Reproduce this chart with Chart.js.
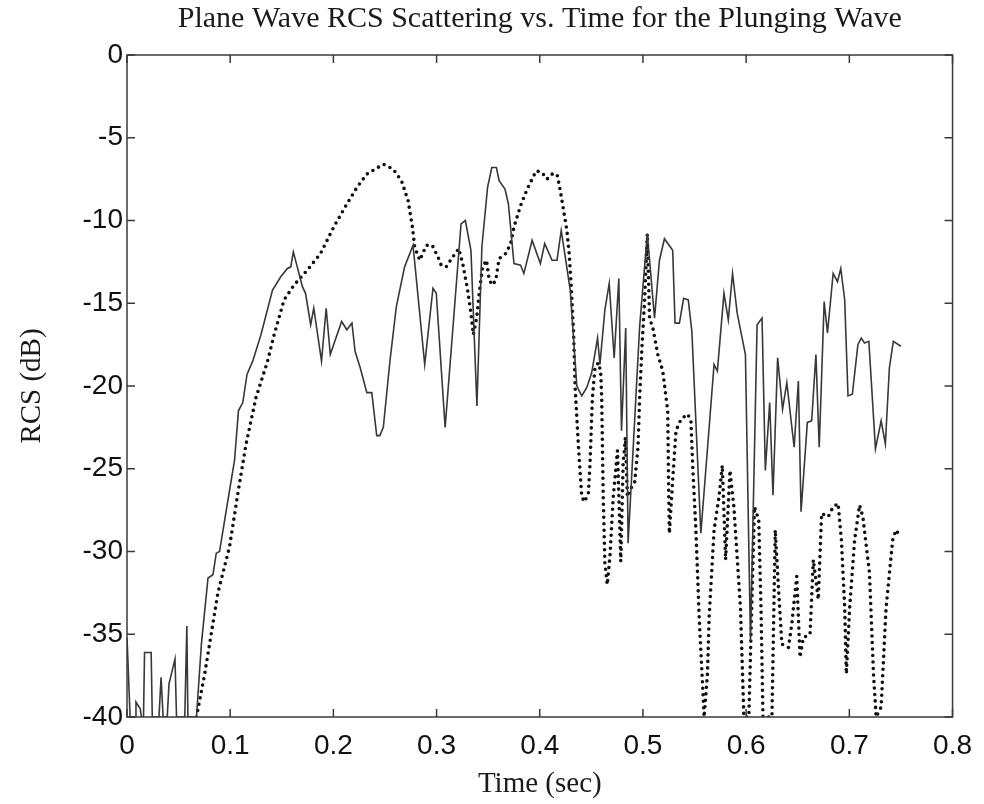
<!DOCTYPE html>
<html>
<head>
<meta charset="utf-8">
<title>Plane Wave RCS Scattering</title>
<script src="https://cdn.jsdelivr.net/npm/chart.js@4.4.1/dist/chart.umd.min.js"></script>
<style>
  html, body { margin: 0; padding: 0; background: #fff; }
</style>
</head>
<body>
<canvas id="rcs" width="984" height="804"></canvas>
<script>
const chartTitle = 'Plane Wave RCS Scattering vs. Time for the Plunging Wave';

// solid trace: time (sec) and RCS (dB)
const solidTime = [0, 0.003, 0.008, 0.0087, 0.0128, 0.014, 0.016, 0.017, 0.0234, 0.0245,
  0.031, 0.033, 0.035, 0.039, 0.0407, 0.0465, 0.048, 0.056, 0.058, 0.059,
  0.0673, 0.0721, 0.0785, 0.0833, 0.0865, 0.0897, 0.0978, 0.1042, 0.108, 0.1122,
  0.1163, 0.1218, 0.1298, 0.141, 0.149, 0.1554, 0.1587, 0.1612, 0.165, 0.170,
  0.173, 0.178, 0.181, 0.1885, 0.193, 0.197, 0.208, 0.213, 0.218, 0.221,
  0.226, 0.2324, 0.2372, 0.242, 0.245, 0.2484, 0.2548, 0.261, 0.269, 0.2772,
  0.2885, 0.2965, 0.2997, 0.3083, 0.3237, 0.3279, 0.3333, 0.3391, 0.3439, 0.3494,
  0.3535, 0.358, 0.3606, 0.3663, 0.3696, 0.375, 0.3814, 0.3846, 0.3926, 0.4006,
  0.4048, 0.4119, 0.4167, 0.4208, 0.4247, 0.4295, 0.4359, 0.4407, 0.4455, 0.4503,
  0.456, 0.4583, 0.4631, 0.4673, 0.4721, 0.4766, 0.4792, 0.4833, 0.4856, 0.4968,
  0.5042, 0.5112, 0.516, 0.5208, 0.5288, 0.5311, 0.5353, 0.5394, 0.5439, 0.5474,
  0.5561, 0.5689, 0.5721, 0.5785, 0.5827, 0.5868, 0.5913, 0.5993, 0.6042, 0.6106,
  0.6154, 0.6186, 0.6228, 0.626, 0.6305, 0.6353, 0.6394, 0.6465, 0.6506, 0.6532,
  0.6593, 0.6635, 0.6676, 0.6708, 0.6756, 0.6788, 0.6843, 0.6885, 0.6917, 0.6955,
  0.6987, 0.7029, 0.7083, 0.7115, 0.7147, 0.7189, 0.7253, 0.7308, 0.7349, 0.7388,
  0.7426, 0.75];
const solidRcs = [-35.2, -40, -40, -39.1, -39.5, -40, -40, -36.1, -36.1, -40,
  -40, -37.6, -40, -40, -38.0, -36.5, -40, -40, -34.5, -40,
  -40, -35.6, -31.6, -31.4, -30.1, -30.0, -26.9, -24.5, -21.5, -21.0,
  -19.3, -18.5, -16.9, -14.2, -13.4, -12.9, -12.8, -11.9, -12.8, -14.0,
  -14.4, -16.3, -15.3, -18.5, -15.3, -18.1, -16.1, -16.6, -16.2, -17.9,
  -18.9, -20.4, -20.4, -23.0, -23.0, -22.5, -18.5, -15.2, -12.8, -11.5,
  -18.7, -14.1, -14.4, -22.5, -10.2, -10.0, -11.8, -21.2, -11.6, -8.0,
  -6.8, -6.8, -7.6, -8.1, -9.0, -12.6, -12.7, -13.2, -11.2, -12.6,
  -11.4, -12.4, -12.4, -10.6, -12.2, -14.2, -20.0, -20.6, -20.1, -19.2,
  -17.1, -18.7, -15.4, -13.8, -18.3, -13.5, -22.7, -16.5, -29.5, -16.4,
  -10.8, -15.9, -12.4, -11.1, -11.8, -16.2, -16.2, -14.7, -14.8, -16.7,
  -28.9, -18.7, -19.1, -14.4, -16.0, -13.2, -15.6, -18.1, -35.4, -16.3,
  -15.9, -25.1, -21.0, -26.6, -18.3, -21.4, -19.8, -23.7, -19.7, -27.6,
  -22.2, -22.1, -18.1, -23.7, -14.9, -16.8, -13.2, -13.7, -12.9, -14.8,
  -20.6, -20.5, -17.5, -17.1, -17.4, -17.3, -23.8, -22.1, -23.5, -18.9,
  -17.3, -17.6];

// dotted trace
const dottedTime = [0.0673, 0.0753, 0.0881, 0.0994, 0.1074, 0.1154, 0.125, 0.1362, 0.1426, 0.1522,
  0.1619, 0.1747, 0.1875, 0.2003, 0.2131, 0.2228, 0.2324, 0.2484, 0.258, 0.266,
  0.2724, 0.2766, 0.2788, 0.2837, 0.2901, 0.2958, 0.3013, 0.3045, 0.3093, 0.3157,
  0.3215, 0.3253, 0.3301, 0.3333, 0.3356, 0.3388, 0.3413, 0.3446, 0.3484, 0.351,
  0.3542, 0.3574, 0.3606, 0.367, 0.3718, 0.375, 0.3814, 0.3878, 0.3965, 0.4022,
  0.407, 0.4119, 0.4167, 0.4199, 0.4231, 0.4263, 0.4285, 0.4305, 0.4327, 0.4343,
  0.4375, 0.4407, 0.4433, 0.4471, 0.4487, 0.451, 0.4535, 0.4567, 0.459, 0.46,
  0.4615, 0.4631, 0.4654, 0.468, 0.4712, 0.4753, 0.4776, 0.4785, 0.4808, 0.483,
  0.4849, 0.4872, 0.492, 0.4952, 0.4968, 0.499, 0.5016, 0.5042, 0.5064, 0.5096,
  0.5144, 0.5192, 0.524, 0.525, 0.5256, 0.5288, 0.532, 0.5369, 0.5433, 0.5465,
  0.5481, 0.5513, 0.5545, 0.5593, 0.5625, 0.5641, 0.5689, 0.5737, 0.5769, 0.5801,
  0.5843, 0.5881, 0.5945, 0.5978, 0.6026, 0.608, 0.6122, 0.6144, 0.6163, 0.625,
  0.6282, 0.6314, 0.6346, 0.641, 0.6442, 0.649, 0.6522, 0.6554, 0.6619, 0.6651,
  0.6699, 0.6731, 0.6795, 0.6843, 0.6891, 0.6923, 0.6955, 0.6971, 0.7003, 0.7051,
  0.7099, 0.7131, 0.7195, 0.7234, 0.726, 0.7308, 0.7356, 0.742, 0.7452, 0.7484];
const dottedRcs = [-40, -37.4, -32.5, -29.7, -26.5, -23.5, -20.7, -18.5, -16.9, -14.8,
  -13.9, -13.0, -12.0, -10.4, -9.0, -8.0, -7.2, -6.6, -6.9, -7.6,
  -8.8, -10.4, -11.6, -12.4, -11.5, -11.5, -12.2, -12.7, -12.8, -12.2,
  -11.7, -12.6, -14.2, -15.6, -16.9, -15.9, -14.4, -12.8, -12.4, -13.6,
  -13.9, -13.6, -12.3, -12.0, -11.4, -10.4, -9.1, -8.1, -7.0, -7.1,
  -7.5, -7.2, -7.2, -8.2, -9.4, -10.6, -12.0, -14.0, -16.7, -20.1,
  -23.7, -26.7, -27.0, -26.5, -24.7, -20.7, -18.9, -18.6, -19.1, -20.7,
  -26.7, -30.7, -32.0, -30.3, -26.7, -23.9, -28.7, -30.6, -24.7, -23.1,
  -26.7, -26.3, -25.8, -23.7, -20.7, -17.7, -14.8, -10.8, -15.9, -16.5,
  -18.1, -19.1, -21.5, -26.7, -28.9, -25.7, -22.7, -22.0, -21.7, -22.1,
  -24.7, -28.7, -34.0, -40, -37.4, -34.0, -28.7, -26.7, -24.8, -30.5,
  -25.1, -27.3, -33.4, -40, -40, -27.3, -28.1, -33.4, -40, -40,
  -28.7, -32.3, -35.6, -35.8, -34.4, -31.5, -36.4, -35.2, -35.0, -30.5,
  -32.9, -27.7, -27.9, -27.3, -27.1, -29.3, -33.4, -37.4, -33.4, -29.3,
  -27.2, -27.9, -31.3, -37.4, -40, -39.4, -33.4, -29.3, -28.7, -29.0];

const xTickLabels = ['0', '0.1', '0.2', '0.3', '0.4', '0.5', '0.6', '0.7', '0.8'];
const yTickLabels = ['-40', '-35', '-30', '-25', '-20', '-15', '-10', '-5', '0'];

function toPoints(times, values) {
    return times.map(function (t, i) {
        return { x: t, y: values[i] };
    });
}

const serif = "'Liberation Serif', 'Times New Roman', serif";
const sans = "'Liberation Sans', Arial, sans-serif";

/* box round the plot with small inward ticks, and the title centred over the axes */
const boxTicks = {
    id: 'boxTicks',
    afterDatasetsDraw(chart) {
        const ctx = chart.ctx;
        const a = chart.chartArea;
        const xs = chart.scales.x;
        const ys = chart.scales.y;
        ctx.save();
        ctx.strokeStyle = '#3a3a3a';
        ctx.lineWidth = 1.5;
        ctx.strokeRect(a.left, a.top, a.right - a.left, a.bottom - a.top);
        ctx.beginPath();
        xs.ticks.forEach(function (t) {
            let px = xs.getPixelForValue(t.value);
            ctx.moveTo(px, a.bottom); ctx.lineTo(px, a.bottom - 8);
            ctx.moveTo(px, a.top); ctx.lineTo(px, a.top + 8);
        });
        ys.ticks.forEach(function (t) {
            let py = ys.getPixelForValue(t.value);
            ctx.moveTo(a.left, py); ctx.lineTo(a.left + 8, py);
            ctx.moveTo(a.right, py); ctx.lineTo(a.right - 8, py);
        });
        ctx.stroke();

        // title
        ctx.fillStyle = '#1a1a1a';
        ctx.font = '30px ' + serif;
        ctx.textAlign = 'center';
        ctx.textBaseline = 'middle';
        ctx.fillText(chartTitle, (a.left + a.right) / 2, 19);
        ctx.restore();
    }
};

new Chart(document.getElementById('rcs'), {
    type: 'scatter',
    data: {
        datasets: [{
            label: 'solid',
            data: toPoints(solidTime, solidRcs),
            showLine: true,
            borderColor: '#383838',
            borderWidth: 1.6,
            pointRadius: 0,
            tension: 0
        }, {
            label: 'dotted',
            data: toPoints(dottedTime, dottedRcs),
            showLine: true,
            borderColor: '#111',
            borderWidth: 3.6,
            borderDash: [0, 6.5],
            borderCapStyle: 'round',
            pointRadius: 0,
            tension: 0
        }]
    },
    options: {
        responsive: false,
        animation: false,
        layout: { padding: { left: 0, right: 28, top: 55, bottom: 0 } },
        plugins: {
            legend: { display: false },
            tooltip: { enabled: false },
            title: { display: false }
        },
        scales: {
            x: {
                type: 'linear',
                min: 0,
                max: 0.8,
                afterFit: function (s) { s.height = 87; },
                grid: { display: false, drawTicks: false },
                border: { display: false },
                ticks: {
                    stepSize: 0.1,
                    padding: 12,
                    color: '#111',
                    font: { family: sans, size: 28 },
                    maxRotation: 0,
                    callback: function (value, index) { return xTickLabels[index]; }
                },
                title: {
                    display: true,
                    text: 'Time (sec)',
                    color: '#1a1a1a',
                    font: { family: serif, size: 29 },
                    padding: { top: 0, bottom: 2 }
                }
            },
            y: {
                min: -40,
                max: 0,
                afterFit: function (s) { s.width = 127; },
                grid: { display: false, drawTicks: false },
                border: { display: false },
                ticks: {
                    stepSize: 5,
                    padding: 4,
                    color: '#111',
                    font: { family: sans, size: 28 },
                    callback: function (value, index) { return yTickLabels[index]; }
                },
                title: {
                    display: true,
                    text: 'RCS (dB)',
                    color: '#1a1a1a',
                    font: { family: serif, size: 29 },
                    padding: { top: 15, bottom: 0 }
                }
            }
        }
    },
    plugins: [boxTicks]
});
</script>
</body>
</html>
